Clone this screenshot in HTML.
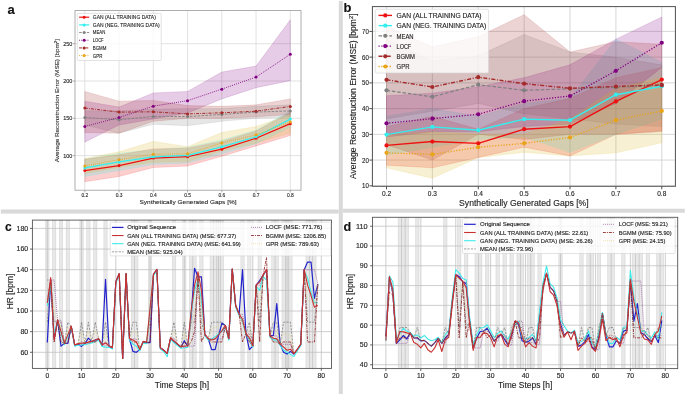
<!DOCTYPE html>
<html><head><meta charset="utf-8"><style>
html,body{margin:0;padding:0;background:#fff;}
body{width:685px;height:395px;overflow:hidden;}
svg{display:block;font-family:"Liberation Sans", sans-serif;filter:blur(0.3px);}
text{stroke:#262626;stroke-width:0.14px;}
.thin text{stroke-width:0.1px;}
</style></head><body>
<svg width="685" height="395" viewBox="0 0 685 395">
<rect x="0" y="0" width="685" height="395" fill="#fff"/>
<rect x="338.8" y="1" width="4" height="393" fill="#d9d9d9"/>
<rect x="0.8" y="209.5" width="338" height="4.1" fill="#d9d9d9"/>
<rect x="342.8" y="208.7" width="342" height="4" fill="#d9d9d9"/>
<g class="thin">
<clipPath id="ca"><rect x="75" y="10.6" width="226" height="179.6"/></clipPath>
<g clip-path="url(#ca)">
<line x1="84.8" y1="10.6" x2="84.8" y2="190.2" stroke="#d6d6d6" stroke-width="0.7"/>
<line x1="119.05" y1="10.6" x2="119.05" y2="190.2" stroke="#d6d6d6" stroke-width="0.7"/>
<line x1="153.3" y1="10.6" x2="153.3" y2="190.2" stroke="#d6d6d6" stroke-width="0.7"/>
<line x1="187.55" y1="10.6" x2="187.55" y2="190.2" stroke="#d6d6d6" stroke-width="0.7"/>
<line x1="221.8" y1="10.6" x2="221.8" y2="190.2" stroke="#d6d6d6" stroke-width="0.7"/>
<line x1="256.05" y1="10.6" x2="256.05" y2="190.2" stroke="#d6d6d6" stroke-width="0.7"/>
<line x1="290.3" y1="10.6" x2="290.3" y2="190.2" stroke="#d6d6d6" stroke-width="0.7"/>
<line x1="75" y1="155.6" x2="301" y2="155.6" stroke="#d6d6d6" stroke-width="0.7"/>
<line x1="75" y1="118.3" x2="301" y2="118.3" stroke="#d6d6d6" stroke-width="0.7"/>
<line x1="75" y1="81" x2="301" y2="81" stroke="#d6d6d6" stroke-width="0.7"/>
<line x1="75" y1="43.7" x2="301" y2="43.7" stroke="#d6d6d6" stroke-width="0.7"/>
<polygon points="84.8,159.33 119.05,154.85 153.3,148.89 187.55,148.14 221.8,141.43 256.05,130.98 290.3,112.33 290.3,135.46 256.05,145.9 221.8,156.35 187.55,166.04 153.3,167.54 119.05,176.49 84.8,181.71" fill="#ee1111" fill-opacity="0.2" stroke="#ee1111" stroke-opacity="0.2" stroke-width="0.7" stroke-linejoin="round"/>
<polygon points="84.8,159.33 119.05,153.36 153.3,149.63 187.55,147.39 221.8,139.93 256.05,130.24 290.3,110.84 290.3,127.25 256.05,143.66 221.8,154.11 187.55,163.06 153.3,164.55 119.05,170.52 84.8,176.49" fill="#33eeee" fill-opacity="0.2" stroke="#33eeee" stroke-opacity="0.2" stroke-width="0.7" stroke-linejoin="round"/>
<polygon points="84.8,110.84 119.05,110.84 153.3,109.35 187.55,108.6 221.8,108.6 256.05,106.36 290.3,104.87 290.3,116.81 256.05,118.3 221.8,121.28 187.55,125.76 153.3,124.27 119.05,133.22 84.8,125.01" fill="#808080" fill-opacity="0.2" stroke="#808080" stroke-opacity="0.2" stroke-width="0.7" stroke-linejoin="round"/>
<polygon points="84.8,101.14 119.05,107.11 153.3,92.94 187.55,91.44 221.8,72.05 256.05,66.08 290.3,19.83 290.3,80.63 256.05,87.71 221.8,98.9 187.55,113.08 153.3,119.05 119.05,125.01 84.8,142.17" fill="#800080" fill-opacity="0.2" stroke="#800080" stroke-opacity="0.2" stroke-width="0.7" stroke-linejoin="round"/>
<polygon points="84.8,91.44 119.05,101.14 153.3,100.4 187.55,105.62 221.8,106.36 256.05,104.87 290.3,98.9 290.3,114.57 256.05,116.81 221.8,118.3 187.55,118.3 153.3,121.28 119.05,133.22 84.8,132.47" fill="#a52a2a" fill-opacity="0.2" stroke="#a52a2a" stroke-opacity="0.2" stroke-width="0.7" stroke-linejoin="round"/>
<polygon points="84.8,158.58 119.05,151.87 153.3,141.43 187.55,146.65 221.8,132.47 256.05,126.51 290.3,114.57 290.3,133.22 256.05,142.92 221.8,151.12 187.55,161.57 153.3,162.31 119.05,167.54 84.8,173.5" fill="#dcb420" fill-opacity="0.2" stroke="#dcb420" stroke-opacity="0.2" stroke-width="0.7" stroke-linejoin="round"/>
<polyline points="84.8,170.59 119.05,165.6 153.3,158.06 187.55,156.72 221.8,149.18 256.05,138.29 290.3,123.67" fill="none" stroke="#ee1111" stroke-width="1.2" stroke-linejoin="round"/>
<circle cx="84.8" cy="170.59" r="1.5" fill="#ee1111"/>
<circle cx="119.05" cy="165.6" r="1.5" fill="#ee1111"/>
<circle cx="153.3" cy="158.06" r="1.5" fill="#ee1111"/>
<circle cx="187.55" cy="156.72" r="1.5" fill="#ee1111"/>
<circle cx="221.8" cy="149.18" r="1.5" fill="#ee1111"/>
<circle cx="256.05" cy="138.29" r="1.5" fill="#ee1111"/>
<circle cx="290.3" cy="123.67" r="1.5" fill="#ee1111"/>
<polyline points="84.8,167.91 119.05,161.94 153.3,156.87 187.55,155.3 221.8,146.87 256.05,136.73 290.3,119.12" fill="none" stroke="#33eeee" stroke-width="1.2" stroke-linejoin="round"/>
<circle cx="84.8" cy="167.91" r="1.5" fill="#33eeee"/>
<circle cx="119.05" cy="161.94" r="1.5" fill="#33eeee"/>
<circle cx="153.3" cy="156.87" r="1.5" fill="#33eeee"/>
<circle cx="187.55" cy="155.3" r="1.5" fill="#33eeee"/>
<circle cx="221.8" cy="146.87" r="1.5" fill="#33eeee"/>
<circle cx="256.05" cy="136.73" r="1.5" fill="#33eeee"/>
<circle cx="290.3" cy="119.12" r="1.5" fill="#33eeee"/>
<polyline points="84.8,117.48 119.05,119.79 153.3,116.44 187.55,116.58 221.8,114.42 256.05,112.11 290.3,110.91" fill="none" stroke="#808080" stroke-width="0.9" stroke-linejoin="round" stroke-dasharray="2.6 1.3"/>
<circle cx="84.8" cy="117.48" r="1.5" fill="#808080"/>
<circle cx="119.05" cy="119.79" r="1.5" fill="#808080"/>
<circle cx="153.3" cy="116.44" r="1.5" fill="#808080"/>
<circle cx="187.55" cy="116.58" r="1.5" fill="#808080"/>
<circle cx="221.8" cy="114.42" r="1.5" fill="#808080"/>
<circle cx="256.05" cy="112.11" r="1.5" fill="#808080"/>
<circle cx="290.3" cy="110.91" r="1.5" fill="#808080"/>
<polyline points="84.8,126.43 119.05,117.48 153.3,106.14 187.55,100.69 221.8,89.13 256.05,77.05 290.3,54.29" fill="none" stroke="#800080" stroke-width="0.9" stroke-linejoin="round" stroke-dasharray="0.9 1.2"/>
<circle cx="84.8" cy="126.43" r="1.5" fill="#800080"/>
<circle cx="119.05" cy="117.48" r="1.5" fill="#800080"/>
<circle cx="153.3" cy="106.14" r="1.5" fill="#800080"/>
<circle cx="187.55" cy="100.69" r="1.5" fill="#800080"/>
<circle cx="221.8" cy="89.13" r="1.5" fill="#800080"/>
<circle cx="256.05" cy="77.05" r="1.5" fill="#800080"/>
<circle cx="290.3" cy="54.29" r="1.5" fill="#800080"/>
<polyline points="84.8,108.01 119.05,112.11 153.3,111.81 187.55,113.9 221.8,112.78 256.05,111.21 290.3,106.44" fill="none" stroke="#a52a2a" stroke-width="1" stroke-linejoin="round" stroke-dasharray="3 1.2 0.8 1.2"/>
<circle cx="84.8" cy="108.01" r="1.5" fill="#a52a2a"/>
<circle cx="119.05" cy="112.11" r="1.5" fill="#a52a2a"/>
<circle cx="153.3" cy="111.81" r="1.5" fill="#a52a2a"/>
<circle cx="187.55" cy="113.9" r="1.5" fill="#a52a2a"/>
<circle cx="221.8" cy="112.78" r="1.5" fill="#a52a2a"/>
<circle cx="256.05" cy="111.21" r="1.5" fill="#a52a2a"/>
<circle cx="290.3" cy="106.44" r="1.5" fill="#a52a2a"/>
<polyline points="84.8,165.97 119.05,159.7 153.3,154.18 187.55,153.81 221.8,142.99 256.05,134.86 290.3,121.88" fill="none" stroke="#e8a317" stroke-width="0.9" stroke-linejoin="round" stroke-dasharray="0.9 1.2"/>
<circle cx="84.8" cy="165.97" r="1.5" fill="#e8a317"/>
<circle cx="119.05" cy="159.7" r="1.5" fill="#e8a317"/>
<circle cx="153.3" cy="154.18" r="1.5" fill="#e8a317"/>
<circle cx="187.55" cy="153.81" r="1.5" fill="#e8a317"/>
<circle cx="221.8" cy="142.99" r="1.5" fill="#e8a317"/>
<circle cx="256.05" cy="134.86" r="1.5" fill="#e8a317"/>
<circle cx="290.3" cy="121.88" r="1.5" fill="#e8a317"/>
</g>
<rect x="75" y="10.6" width="226" height="179.6" fill="none" stroke="#9a9a9a" stroke-width="0.8"/>
<line x1="84.8" y1="190.2" x2="84.8" y2="192.4" stroke="#9a9a9a" stroke-width="0.8"/>
<line x1="119.05" y1="190.2" x2="119.05" y2="192.4" stroke="#9a9a9a" stroke-width="0.8"/>
<line x1="153.3" y1="190.2" x2="153.3" y2="192.4" stroke="#9a9a9a" stroke-width="0.8"/>
<line x1="187.55" y1="190.2" x2="187.55" y2="192.4" stroke="#9a9a9a" stroke-width="0.8"/>
<line x1="221.8" y1="190.2" x2="221.8" y2="192.4" stroke="#9a9a9a" stroke-width="0.8"/>
<line x1="256.05" y1="190.2" x2="256.05" y2="192.4" stroke="#9a9a9a" stroke-width="0.8"/>
<line x1="290.3" y1="190.2" x2="290.3" y2="192.4" stroke="#9a9a9a" stroke-width="0.8"/>
<line x1="72.8" y1="155.6" x2="75" y2="155.6" stroke="#9a9a9a" stroke-width="0.8"/>
<line x1="72.8" y1="118.3" x2="75" y2="118.3" stroke="#9a9a9a" stroke-width="0.8"/>
<line x1="72.8" y1="81" x2="75" y2="81" stroke="#9a9a9a" stroke-width="0.8"/>
<line x1="72.8" y1="43.7" x2="75" y2="43.7" stroke="#9a9a9a" stroke-width="0.8"/>
<text x="84.8" y="197" font-size="4.6" fill="#262626" text-anchor="middle" textLength="6.8" lengthAdjust="spacingAndGlyphs">0.2</text>
<text x="119.05" y="197" font-size="4.6" fill="#262626" text-anchor="middle" textLength="6.8" lengthAdjust="spacingAndGlyphs">0.3</text>
<text x="153.3" y="197" font-size="4.6" fill="#262626" text-anchor="middle" textLength="6.8" lengthAdjust="spacingAndGlyphs">0.4</text>
<text x="187.55" y="197" font-size="4.6" fill="#262626" text-anchor="middle" textLength="6.8" lengthAdjust="spacingAndGlyphs">0.5</text>
<text x="221.8" y="197" font-size="4.6" fill="#262626" text-anchor="middle" textLength="6.8" lengthAdjust="spacingAndGlyphs">0.6</text>
<text x="256.05" y="197" font-size="4.6" fill="#262626" text-anchor="middle" textLength="6.8" lengthAdjust="spacingAndGlyphs">0.7</text>
<text x="290.3" y="197" font-size="4.6" fill="#262626" text-anchor="middle" textLength="6.8" lengthAdjust="spacingAndGlyphs">0.8</text>
<text x="72.3" y="157.76" font-size="4.6" fill="#262626" text-anchor="end" textLength="9.15" lengthAdjust="spacingAndGlyphs">100</text>
<text x="72.3" y="120.46" font-size="4.6" fill="#262626" text-anchor="end" textLength="9.15" lengthAdjust="spacingAndGlyphs">150</text>
<text x="72.3" y="83.16" font-size="4.6" fill="#262626" text-anchor="end" textLength="9.15" lengthAdjust="spacingAndGlyphs">200</text>
<text x="72.3" y="45.86" font-size="4.6" fill="#262626" text-anchor="end" textLength="9.15" lengthAdjust="spacingAndGlyphs">250</text>
<text x="188" y="204" font-size="6.2" fill="#262626" text-anchor="middle" textLength="97" lengthAdjust="spacingAndGlyphs">Synthetically Generated Gaps [%]</text>
<text x="0" y="0" font-size="6.2" fill="#262626" text-anchor="middle" textLength="123.5" lengthAdjust="spacingAndGlyphs" transform="translate(59.2 100.6) rotate(-90)">Average Reconstruction Error (MSE) [bpm<tspan font-size="4.34" dy="-2.48">2</tspan><tspan dy="2.48">]</tspan></text>
<rect x="77.3" y="13.4" width="83.9" height="47.1" fill="#ffffff" fill-opacity="0.8" stroke="#d0d0d0" stroke-width="0.6" rx="1"/>
<line x1="79.1" y1="17.2" x2="89.2" y2="17.2" stroke="#ee1111" stroke-width="1.2"/>
<circle cx="84.15" cy="17.2" r="1.5" fill="#ee1111"/>
<text x="92.8" y="19.13" font-size="4.6" fill="#262626" textLength="63" lengthAdjust="spacingAndGlyphs">GAN (ALL TRAINING DATA)</text>
<line x1="79.1" y1="24.88" x2="89.2" y2="24.88" stroke="#33eeee" stroke-width="1.2"/>
<circle cx="84.15" cy="24.88" r="1.5" fill="#33eeee"/>
<text x="92.8" y="26.81" font-size="4.6" fill="#262626" textLength="67" lengthAdjust="spacingAndGlyphs">GAN (NEG. TRAINING DATA)</text>
<line x1="79.1" y1="32.56" x2="89.2" y2="32.56" stroke="#808080" stroke-width="0.9" stroke-dasharray="2.6 1.3"/>
<circle cx="84.15" cy="32.56" r="1.5" fill="#808080"/>
<text x="92.8" y="34.49" font-size="4.6" fill="#262626" textLength="12.5" lengthAdjust="spacingAndGlyphs">MEAN</text>
<line x1="79.1" y1="40.24" x2="89.2" y2="40.24" stroke="#800080" stroke-width="0.9" stroke-dasharray="0.9 1.2"/>
<circle cx="84.15" cy="40.24" r="1.5" fill="#800080"/>
<text x="92.8" y="42.17" font-size="4.6" fill="#262626" textLength="10.8" lengthAdjust="spacingAndGlyphs">LOCF</text>
<line x1="79.1" y1="47.92" x2="89.2" y2="47.92" stroke="#a52a2a" stroke-width="1" stroke-dasharray="3 1.2 0.8 1.2"/>
<circle cx="84.15" cy="47.92" r="1.5" fill="#a52a2a"/>
<text x="92.8" y="49.85" font-size="4.6" fill="#262626" textLength="13.6" lengthAdjust="spacingAndGlyphs">BGMM</text>
<line x1="79.1" y1="55.6" x2="89.2" y2="55.6" stroke="#e8a317" stroke-width="0.9" stroke-dasharray="0.9 1.2"/>
<circle cx="84.15" cy="55.6" r="1.5" fill="#e8a317"/>
<text x="92.8" y="57.53" font-size="4.6" fill="#262626" textLength="9.6" lengthAdjust="spacingAndGlyphs">GPR</text>
</g>
<clipPath id="cb"><rect x="372.4" y="6.6" width="303" height="179.7"/></clipPath>
<g clip-path="url(#cb)">
<line x1="386.5" y1="6.6" x2="386.5" y2="186.3" stroke="#cdcdcd" stroke-width="0.8"/>
<line x1="432.38" y1="6.6" x2="432.38" y2="186.3" stroke="#cdcdcd" stroke-width="0.8"/>
<line x1="478.26" y1="6.6" x2="478.26" y2="186.3" stroke="#cdcdcd" stroke-width="0.8"/>
<line x1="524.14" y1="6.6" x2="524.14" y2="186.3" stroke="#cdcdcd" stroke-width="0.8"/>
<line x1="570.02" y1="6.6" x2="570.02" y2="186.3" stroke="#cdcdcd" stroke-width="0.8"/>
<line x1="615.9" y1="6.6" x2="615.9" y2="186.3" stroke="#cdcdcd" stroke-width="0.8"/>
<line x1="661.78" y1="6.6" x2="661.78" y2="186.3" stroke="#cdcdcd" stroke-width="0.8"/>
<line x1="372.4" y1="185.8" x2="675.4" y2="185.8" stroke="#cdcdcd" stroke-width="0.8"/>
<line x1="372.4" y1="160.07" x2="675.4" y2="160.07" stroke="#cdcdcd" stroke-width="0.8"/>
<line x1="372.4" y1="134.34" x2="675.4" y2="134.34" stroke="#cdcdcd" stroke-width="0.8"/>
<line x1="372.4" y1="108.61" x2="675.4" y2="108.61" stroke="#cdcdcd" stroke-width="0.8"/>
<line x1="372.4" y1="82.88" x2="675.4" y2="82.88" stroke="#cdcdcd" stroke-width="0.8"/>
<line x1="372.4" y1="57.15" x2="675.4" y2="57.15" stroke="#cdcdcd" stroke-width="0.8"/>
<line x1="372.4" y1="31.42" x2="675.4" y2="31.42" stroke="#cdcdcd" stroke-width="0.8"/>
<polygon points="386.5,126.62 432.38,116.33 478.26,129.19 524.14,108.61 570.02,98.32 615.9,77.73 661.78,67.44 661.78,130.74 615.9,134.34 570.02,155.95 524.14,147.21 478.26,157.5 432.38,167.79 386.5,165.22" fill="#ee1111" fill-opacity="0.2" stroke="#ee1111" stroke-opacity="0.2" stroke-width="0.7" stroke-linejoin="round"/>
<polygon points="386.5,116.33 432.38,108.61 478.26,116.33 524.14,103.46 570.02,98.32 615.9,39.14 661.78,62.3 661.78,118.9 615.9,134.34 570.02,152.35 524.14,136.91 478.26,139.49 432.38,147.21 386.5,154.92" fill="#33eeee" fill-opacity="0.2" stroke="#33eeee" stroke-opacity="0.2" stroke-width="0.7" stroke-linejoin="round"/>
<polygon points="386.5,39.14 432.38,61.01 478.26,55.86 524.14,34.51 570.02,52 615.9,57.15 661.78,64.87 661.78,126.62 615.9,124.05 570.02,118.9 524.14,113.76 478.26,103.46 432.38,111.18 386.5,118.9" fill="#808080" fill-opacity="0.2" stroke="#808080" stroke-opacity="0.2" stroke-width="0.7" stroke-linejoin="round"/>
<polygon points="386.5,95.75 432.38,93.17 478.26,86.74 524.14,77.73 570.02,64.87 615.9,39.14 661.78,17.01 661.78,67.44 615.9,103.46 570.02,124.05 524.14,126.62 478.26,131.77 432.38,131.77 386.5,136.91" fill="#800080" fill-opacity="0.2" stroke="#800080" stroke-opacity="0.2" stroke-width="0.7" stroke-linejoin="round"/>
<polygon points="386.5,26.27 432.38,46.86 478.26,36.57 524.14,14.7 570.02,52 615.9,41.71 661.78,44.29 661.78,131.77 615.9,134.34 570.02,134.34 524.14,139.49 478.26,134.34 432.38,160.07 386.5,144.63" fill="#a52a2a" fill-opacity="0.2" stroke="#a52a2a" stroke-opacity="0.2" stroke-width="0.7" stroke-linejoin="round"/>
<polygon points="386.5,134.34 432.38,131.77 478.26,134.34 524.14,134.34 570.02,118.9 615.9,88.03 661.78,77.73 661.78,142.83 615.9,152.87 570.02,155.95 524.14,152.35 478.26,157.5 432.38,178.34 386.5,167.79" fill="#dcb420" fill-opacity="0.2" stroke="#dcb420" stroke-opacity="0.2" stroke-width="0.7" stroke-linejoin="round"/>
<polyline points="386.5,145.4 432.38,141.54 478.26,143.35 524.14,129.19 570.02,126.62 615.9,101.41 661.78,79.54" fill="none" stroke="#ee1111" stroke-width="1.4" stroke-linejoin="round"/>
<circle cx="386.5" cy="145.4" r="2.1" fill="#ee1111"/>
<circle cx="432.38" cy="141.54" r="2.1" fill="#ee1111"/>
<circle cx="478.26" cy="143.35" r="2.1" fill="#ee1111"/>
<circle cx="524.14" cy="129.19" r="2.1" fill="#ee1111"/>
<circle cx="570.02" cy="126.62" r="2.1" fill="#ee1111"/>
<circle cx="615.9" cy="101.41" r="2.1" fill="#ee1111"/>
<circle cx="661.78" cy="79.54" r="2.1" fill="#ee1111"/>
<polyline points="386.5,134.6 432.38,126.88 478.26,130.22 524.14,119.16 570.02,120.19 615.9,94.72 661.78,86.22" fill="none" stroke="#33eeee" stroke-width="1.4" stroke-linejoin="round"/>
<circle cx="386.5" cy="134.6" r="2.1" fill="#33eeee"/>
<circle cx="432.38" cy="126.88" r="2.1" fill="#33eeee"/>
<circle cx="478.26" cy="130.22" r="2.1" fill="#33eeee"/>
<circle cx="524.14" cy="119.16" r="2.1" fill="#33eeee"/>
<circle cx="570.02" cy="120.19" r="2.1" fill="#33eeee"/>
<circle cx="615.9" cy="94.72" r="2.1" fill="#33eeee"/>
<circle cx="661.78" cy="86.22" r="2.1" fill="#33eeee"/>
<polyline points="386.5,90.34 432.38,96.77 478.26,84.68 524.14,90.34 570.02,88.8 615.9,87.25 661.78,85.45" fill="none" stroke="#808080" stroke-width="1.2" stroke-linejoin="round" stroke-dasharray="3.6 1.8"/>
<circle cx="386.5" cy="90.34" r="2.1" fill="#808080"/>
<circle cx="432.38" cy="96.77" r="2.1" fill="#808080"/>
<circle cx="478.26" cy="84.68" r="2.1" fill="#808080"/>
<circle cx="524.14" cy="90.34" r="2.1" fill="#808080"/>
<circle cx="570.02" cy="88.8" r="2.1" fill="#808080"/>
<circle cx="615.9" cy="87.25" r="2.1" fill="#808080"/>
<circle cx="661.78" cy="85.45" r="2.1" fill="#808080"/>
<polyline points="386.5,123.28 432.38,118.64 478.26,114.27 524.14,101.15 570.02,96 615.9,70.79 661.78,42.74" fill="none" stroke="#800080" stroke-width="1.3" stroke-linejoin="round" stroke-dasharray="1.2 1.6"/>
<circle cx="386.5" cy="123.28" r="2.1" fill="#800080"/>
<circle cx="432.38" cy="118.64" r="2.1" fill="#800080"/>
<circle cx="478.26" cy="114.27" r="2.1" fill="#800080"/>
<circle cx="524.14" cy="101.15" r="2.1" fill="#800080"/>
<circle cx="570.02" cy="96" r="2.1" fill="#800080"/>
<circle cx="615.9" cy="70.79" r="2.1" fill="#800080"/>
<circle cx="661.78" cy="42.74" r="2.1" fill="#800080"/>
<polyline points="386.5,79.79 432.38,87 478.26,77.22 524.14,83.65 570.02,88.28 615.9,86.48 661.78,84.94" fill="none" stroke="#a52a2a" stroke-width="1.4" stroke-linejoin="round" stroke-dasharray="4 1.6 1 1.6"/>
<circle cx="386.5" cy="79.79" r="2.1" fill="#a52a2a"/>
<circle cx="432.38" cy="87" r="2.1" fill="#a52a2a"/>
<circle cx="478.26" cy="77.22" r="2.1" fill="#a52a2a"/>
<circle cx="524.14" cy="83.65" r="2.1" fill="#a52a2a"/>
<circle cx="570.02" cy="88.28" r="2.1" fill="#a52a2a"/>
<circle cx="615.9" cy="86.48" r="2.1" fill="#a52a2a"/>
<circle cx="661.78" cy="84.94" r="2.1" fill="#a52a2a"/>
<polyline points="386.5,152.87 432.38,154.41 478.26,147.21 524.14,143.35 570.02,137.43 615.9,120.19 661.78,110.93" fill="none" stroke="#e8a317" stroke-width="1.3" stroke-linejoin="round" stroke-dasharray="1.2 1.6"/>
<circle cx="386.5" cy="152.87" r="2.1" fill="#e8a317"/>
<circle cx="432.38" cy="154.41" r="2.1" fill="#e8a317"/>
<circle cx="478.26" cy="147.21" r="2.1" fill="#e8a317"/>
<circle cx="524.14" cy="143.35" r="2.1" fill="#e8a317"/>
<circle cx="570.02" cy="137.43" r="2.1" fill="#e8a317"/>
<circle cx="615.9" cy="120.19" r="2.1" fill="#e8a317"/>
<circle cx="661.78" cy="110.93" r="2.1" fill="#e8a317"/>
</g>
<rect x="372.4" y="6.6" width="303" height="179.7" fill="none" stroke="#505050" stroke-width="1"/>
<line x1="386.5" y1="186.3" x2="386.5" y2="189.3" stroke="#505050" stroke-width="1"/>
<line x1="432.38" y1="186.3" x2="432.38" y2="189.3" stroke="#505050" stroke-width="1"/>
<line x1="478.26" y1="186.3" x2="478.26" y2="189.3" stroke="#505050" stroke-width="1"/>
<line x1="524.14" y1="186.3" x2="524.14" y2="189.3" stroke="#505050" stroke-width="1"/>
<line x1="570.02" y1="186.3" x2="570.02" y2="189.3" stroke="#505050" stroke-width="1"/>
<line x1="615.9" y1="186.3" x2="615.9" y2="189.3" stroke="#505050" stroke-width="1"/>
<line x1="661.78" y1="186.3" x2="661.78" y2="189.3" stroke="#505050" stroke-width="1"/>
<line x1="369.4" y1="185.8" x2="372.4" y2="185.8" stroke="#505050" stroke-width="1"/>
<line x1="369.4" y1="160.07" x2="372.4" y2="160.07" stroke="#505050" stroke-width="1"/>
<line x1="369.4" y1="134.34" x2="372.4" y2="134.34" stroke="#505050" stroke-width="1"/>
<line x1="369.4" y1="108.61" x2="372.4" y2="108.61" stroke="#505050" stroke-width="1"/>
<line x1="369.4" y1="82.88" x2="372.4" y2="82.88" stroke="#505050" stroke-width="1"/>
<line x1="369.4" y1="57.15" x2="372.4" y2="57.15" stroke="#505050" stroke-width="1"/>
<line x1="369.4" y1="31.42" x2="372.4" y2="31.42" stroke="#505050" stroke-width="1"/>
<text x="386.5" y="196.3" font-size="7" fill="#262626" text-anchor="middle" textLength="9.1" lengthAdjust="spacingAndGlyphs">0.2</text>
<text x="432.38" y="196.3" font-size="7" fill="#262626" text-anchor="middle" textLength="9.1" lengthAdjust="spacingAndGlyphs">0.3</text>
<text x="478.26" y="196.3" font-size="7" fill="#262626" text-anchor="middle" textLength="9.1" lengthAdjust="spacingAndGlyphs">0.4</text>
<text x="524.14" y="196.3" font-size="7" fill="#262626" text-anchor="middle" textLength="9.1" lengthAdjust="spacingAndGlyphs">0.5</text>
<text x="570.02" y="196.3" font-size="7" fill="#262626" text-anchor="middle" textLength="9.1" lengthAdjust="spacingAndGlyphs">0.6</text>
<text x="615.9" y="196.3" font-size="7" fill="#262626" text-anchor="middle" textLength="9.1" lengthAdjust="spacingAndGlyphs">0.7</text>
<text x="661.78" y="196.3" font-size="7" fill="#262626" text-anchor="middle" textLength="9.1" lengthAdjust="spacingAndGlyphs">0.8</text>
<text x="368.8" y="188.32" font-size="7" fill="#262626" text-anchor="end" textLength="6.8" lengthAdjust="spacingAndGlyphs">10</text>
<text x="368.8" y="162.59" font-size="7" fill="#262626" text-anchor="end" textLength="6.8" lengthAdjust="spacingAndGlyphs">20</text>
<text x="368.8" y="136.86" font-size="7" fill="#262626" text-anchor="end" textLength="6.8" lengthAdjust="spacingAndGlyphs">30</text>
<text x="368.8" y="111.13" font-size="7" fill="#262626" text-anchor="end" textLength="6.8" lengthAdjust="spacingAndGlyphs">40</text>
<text x="368.8" y="85.4" font-size="7" fill="#262626" text-anchor="end" textLength="6.8" lengthAdjust="spacingAndGlyphs">50</text>
<text x="368.8" y="59.67" font-size="7" fill="#262626" text-anchor="end" textLength="6.8" lengthAdjust="spacingAndGlyphs">60</text>
<text x="368.8" y="33.94" font-size="7" fill="#262626" text-anchor="end" textLength="6.8" lengthAdjust="spacingAndGlyphs">70</text>
<text x="523.9" y="206" font-size="8.4" fill="#262626" text-anchor="middle" textLength="129.6" lengthAdjust="spacingAndGlyphs">Synthetically Generated Gaps [%]</text>
<text x="0" y="0" font-size="8.4" fill="#262626" text-anchor="middle" textLength="165.6" lengthAdjust="spacingAndGlyphs" transform="translate(356.4 96.2) rotate(-90)">Average Reconstruction Error (MSE) [bpm<tspan font-size="5.88" dy="-3.36">2</tspan><tspan dy="3.36">]</tspan></text>
<rect x="375.3" y="9.2" width="113.3" height="63.8" fill="#ffffff" fill-opacity="0.8" stroke="#d0d0d0" stroke-width="0.6" rx="1.5"/>
<line x1="378.5" y1="15.4" x2="392" y2="15.4" stroke="#ee1111" stroke-width="1.4"/>
<circle cx="385.25" cy="15.4" r="2.1" fill="#ee1111"/>
<text x="396.6" y="18.26" font-size="6.8" fill="#262626" textLength="85" lengthAdjust="spacingAndGlyphs">GAN (ALL TRAINING DATA)</text>
<line x1="378.5" y1="25.62" x2="392" y2="25.62" stroke="#33eeee" stroke-width="1.4"/>
<circle cx="385.25" cy="25.62" r="2.1" fill="#33eeee"/>
<text x="396.6" y="28.48" font-size="6.8" fill="#262626" textLength="89.6" lengthAdjust="spacingAndGlyphs">GAN (NEG. TRAINING DATA)</text>
<line x1="378.5" y1="35.84" x2="392" y2="35.84" stroke="#808080" stroke-width="1.2" stroke-dasharray="3.6 1.8"/>
<circle cx="385.25" cy="35.84" r="2.1" fill="#808080"/>
<text x="396.6" y="38.7" font-size="6.8" fill="#262626" textLength="17" lengthAdjust="spacingAndGlyphs">MEAN</text>
<line x1="378.5" y1="46.06" x2="392" y2="46.06" stroke="#800080" stroke-width="1.3" stroke-dasharray="1.2 1.6"/>
<circle cx="385.25" cy="46.06" r="2.1" fill="#800080"/>
<text x="396.6" y="48.92" font-size="6.8" fill="#262626" textLength="14.6" lengthAdjust="spacingAndGlyphs">LOCF</text>
<line x1="378.5" y1="56.28" x2="392" y2="56.28" stroke="#a52a2a" stroke-width="1.4" stroke-dasharray="4 1.6 1 1.6"/>
<circle cx="385.25" cy="56.28" r="2.1" fill="#a52a2a"/>
<text x="396.6" y="59.14" font-size="6.8" fill="#262626" textLength="18.3" lengthAdjust="spacingAndGlyphs">BGMM</text>
<line x1="378.5" y1="66.5" x2="392" y2="66.5" stroke="#e8a317" stroke-width="1.3" stroke-dasharray="1.2 1.6"/>
<circle cx="385.25" cy="66.5" r="2.1" fill="#e8a317"/>
<text x="396.6" y="69.36" font-size="6.8" fill="#262626" textLength="13" lengthAdjust="spacingAndGlyphs">GPR</text>
<clipPath id="cc"><rect x="32.4" y="220.1" width="299.1" height="148.3"/></clipPath>
<g clip-path="url(#cc)">
<rect x="45.59" y="220.1" width="3.42" height="148.3" fill="#808080" fill-opacity="0.18" stroke="#808080" stroke-opacity="0.22" stroke-width="0.6"/>
<rect x="52.44" y="220.1" width="3.42" height="148.3" fill="#808080" fill-opacity="0.18" stroke="#808080" stroke-opacity="0.22" stroke-width="0.6"/>
<rect x="59.29" y="220.1" width="3.42" height="148.3" fill="#808080" fill-opacity="0.18" stroke="#808080" stroke-opacity="0.22" stroke-width="0.6"/>
<rect x="66.14" y="220.1" width="3.42" height="148.3" fill="#808080" fill-opacity="0.18" stroke="#808080" stroke-opacity="0.22" stroke-width="0.6"/>
<rect x="79.84" y="220.1" width="3.42" height="148.3" fill="#808080" fill-opacity="0.18" stroke="#808080" stroke-opacity="0.22" stroke-width="0.6"/>
<rect x="86.69" y="220.1" width="3.42" height="148.3" fill="#808080" fill-opacity="0.18" stroke="#808080" stroke-opacity="0.22" stroke-width="0.6"/>
<rect x="93.54" y="220.1" width="3.42" height="148.3" fill="#808080" fill-opacity="0.18" stroke="#808080" stroke-opacity="0.22" stroke-width="0.6"/>
<rect x="103.81" y="220.1" width="3.42" height="148.3" fill="#808080" fill-opacity="0.18" stroke="#808080" stroke-opacity="0.22" stroke-width="0.6"/>
<rect x="131.21" y="220.1" width="3.42" height="148.3" fill="#808080" fill-opacity="0.18" stroke="#808080" stroke-opacity="0.22" stroke-width="0.6"/>
<rect x="134.64" y="220.1" width="3.42" height="148.3" fill="#808080" fill-opacity="0.18" stroke="#808080" stroke-opacity="0.22" stroke-width="0.6"/>
<rect x="148.34" y="220.1" width="3.42" height="148.3" fill="#808080" fill-opacity="0.18" stroke="#808080" stroke-opacity="0.22" stroke-width="0.6"/>
<rect x="172.31" y="220.1" width="3.42" height="148.3" fill="#808080" fill-opacity="0.18" stroke="#808080" stroke-opacity="0.22" stroke-width="0.6"/>
<rect x="182.59" y="220.1" width="3.42" height="148.3" fill="#808080" fill-opacity="0.18" stroke="#808080" stroke-opacity="0.22" stroke-width="0.6"/>
<rect x="189.44" y="220.1" width="3.42" height="148.3" fill="#808080" fill-opacity="0.18" stroke="#808080" stroke-opacity="0.22" stroke-width="0.6"/>
<rect x="192.86" y="220.1" width="3.42" height="148.3" fill="#808080" fill-opacity="0.18" stroke="#808080" stroke-opacity="0.22" stroke-width="0.6"/>
<rect x="199.71" y="220.1" width="3.42" height="148.3" fill="#808080" fill-opacity="0.18" stroke="#808080" stroke-opacity="0.22" stroke-width="0.6"/>
<rect x="209.99" y="220.1" width="3.42" height="148.3" fill="#808080" fill-opacity="0.18" stroke="#808080" stroke-opacity="0.22" stroke-width="0.6"/>
<rect x="213.41" y="220.1" width="3.42" height="148.3" fill="#808080" fill-opacity="0.18" stroke="#808080" stroke-opacity="0.22" stroke-width="0.6"/>
<rect x="216.84" y="220.1" width="3.42" height="148.3" fill="#808080" fill-opacity="0.18" stroke="#808080" stroke-opacity="0.22" stroke-width="0.6"/>
<rect x="220.26" y="220.1" width="3.42" height="148.3" fill="#808080" fill-opacity="0.18" stroke="#808080" stroke-opacity="0.22" stroke-width="0.6"/>
<rect x="240.81" y="220.1" width="3.42" height="148.3" fill="#808080" fill-opacity="0.18" stroke="#808080" stroke-opacity="0.22" stroke-width="0.6"/>
<rect x="247.66" y="220.1" width="3.42" height="148.3" fill="#808080" fill-opacity="0.18" stroke="#808080" stroke-opacity="0.22" stroke-width="0.6"/>
<rect x="257.94" y="220.1" width="3.42" height="148.3" fill="#808080" fill-opacity="0.18" stroke="#808080" stroke-opacity="0.22" stroke-width="0.6"/>
<rect x="271.64" y="220.1" width="3.42" height="148.3" fill="#808080" fill-opacity="0.18" stroke="#808080" stroke-opacity="0.22" stroke-width="0.6"/>
<rect x="275.06" y="220.1" width="3.42" height="148.3" fill="#808080" fill-opacity="0.18" stroke="#808080" stroke-opacity="0.22" stroke-width="0.6"/>
<rect x="281.91" y="220.1" width="3.42" height="148.3" fill="#808080" fill-opacity="0.18" stroke="#808080" stroke-opacity="0.22" stroke-width="0.6"/>
<rect x="285.34" y="220.1" width="3.42" height="148.3" fill="#808080" fill-opacity="0.18" stroke="#808080" stroke-opacity="0.22" stroke-width="0.6"/>
<rect x="288.76" y="220.1" width="3.42" height="148.3" fill="#808080" fill-opacity="0.18" stroke="#808080" stroke-opacity="0.22" stroke-width="0.6"/>
<rect x="305.89" y="220.1" width="3.42" height="148.3" fill="#808080" fill-opacity="0.18" stroke="#808080" stroke-opacity="0.22" stroke-width="0.6"/>
<rect x="309.31" y="220.1" width="3.42" height="148.3" fill="#808080" fill-opacity="0.18" stroke="#808080" stroke-opacity="0.22" stroke-width="0.6"/>
<rect x="312.74" y="220.1" width="3.42" height="148.3" fill="#808080" fill-opacity="0.18" stroke="#808080" stroke-opacity="0.22" stroke-width="0.6"/>
<line x1="47.3" y1="220.1" x2="47.3" y2="368.4" stroke="#bdbdbd" stroke-width="0.75"/>
<line x1="81.55" y1="220.1" x2="81.55" y2="368.4" stroke="#bdbdbd" stroke-width="0.75"/>
<line x1="115.8" y1="220.1" x2="115.8" y2="368.4" stroke="#bdbdbd" stroke-width="0.75"/>
<line x1="150.05" y1="220.1" x2="150.05" y2="368.4" stroke="#bdbdbd" stroke-width="0.75"/>
<line x1="184.3" y1="220.1" x2="184.3" y2="368.4" stroke="#bdbdbd" stroke-width="0.75"/>
<line x1="218.55" y1="220.1" x2="218.55" y2="368.4" stroke="#bdbdbd" stroke-width="0.75"/>
<line x1="252.8" y1="220.1" x2="252.8" y2="368.4" stroke="#bdbdbd" stroke-width="0.75"/>
<line x1="287.05" y1="220.1" x2="287.05" y2="368.4" stroke="#bdbdbd" stroke-width="0.75"/>
<line x1="321.3" y1="220.1" x2="321.3" y2="368.4" stroke="#bdbdbd" stroke-width="0.75"/>
<line x1="32.4" y1="352.3" x2="331.5" y2="352.3" stroke="#bdbdbd" stroke-width="0.75"/>
<line x1="32.4" y1="331.65" x2="331.5" y2="331.65" stroke="#bdbdbd" stroke-width="0.75"/>
<line x1="32.4" y1="311" x2="331.5" y2="311" stroke="#bdbdbd" stroke-width="0.75"/>
<line x1="32.4" y1="290.35" x2="331.5" y2="290.35" stroke="#bdbdbd" stroke-width="0.75"/>
<line x1="32.4" y1="269.7" x2="331.5" y2="269.7" stroke="#bdbdbd" stroke-width="0.75"/>
<line x1="32.4" y1="249.05" x2="331.5" y2="249.05" stroke="#bdbdbd" stroke-width="0.75"/>
<line x1="32.4" y1="228.4" x2="331.5" y2="228.4" stroke="#bdbdbd" stroke-width="0.75"/>
<polyline points="47.3,342.59 50.72,280.02 54.15,338.88 57.57,320.29 61,346.11 64.42,343.52 67.85,343.42 71.27,326.49 74.7,345.07 78.12,344.04 81.55,346.41 84.97,343.42 88.4,338.15 91.82,341.67 95.25,339.91 98.67,338.98 102.1,345.18 105.52,279.3 108.95,346.11 112.38,347.86 115.8,282.09 119.22,273.83 122.65,358.5 126.07,273.83 129.5,338.98 132.93,351.37 136.35,352.3 139.77,349.62 143.2,341.67 146.62,342.59 150.05,342.59 153.47,274.45 156.9,269.7 160.32,347.86 163.75,350.24 167.18,353.33 170.6,338.15 174.02,341.67 177.45,344.35 180.88,347.03 184.3,340.74 187.72,346.11 191.15,316.16 194.57,268.25 198,276.82 201.43,276.82 204.85,334.54 208.27,338.98 211.7,349.62 215.12,349.62 218.55,335.47 221.97,323.08 225.4,325.76 228.82,338.98 232.25,269.18 235.68,305.84 239.1,314.2 242.52,269.7 245.95,333.72 249.38,349.62 252.8,346.11 256.22,285.19 259.65,280.64 263.07,275.38 266.5,270.01 269.93,335.78 273.35,335.47 276.77,303.57 280.2,344.35 283.62,352.3 287.05,354.06 290.47,351.37 293.9,354.06 297.32,349.62 300.75,344.35 304.18,269.7 307.6,262.06 311.02,262.06 314.45,298.4 317.88,284.15" fill="none" stroke="#2222cc" stroke-width="1.2" stroke-linejoin="round" stroke-opacity="1"/>
<polyline points="47.3,305.84 50.72,284.15 54.15,333.72 57.57,321.53 61,333.15 64.42,344.76 67.85,336.24 71.27,327.73 74.7,346.31 78.12,345.28 81.55,344.97 84.97,344.66 88.4,343.78 91.82,342.9 95.25,341.56 98.67,340.22 102.1,346.41 105.52,347.14 108.95,347.34 112.38,349.1 115.8,283.33 119.22,275.07 122.65,356.43 126.07,275.07 129.5,340.22 132.93,344.04 136.35,346.11 139.77,350.85 143.2,342.9 146.62,343.83 150.05,309.76 153.47,275.69 156.9,270.94 160.32,349.1 163.75,351.47 167.18,356.74 170.6,339.39 174.02,342.49 177.45,345.59 180.88,348.27 184.3,347.81 187.72,347.34 191.15,313.06 194.57,290.35 198,280.02 201.43,300.68 204.85,335.78 208.27,340.22 211.7,338.88 215.12,336.81 218.55,333.72 221.97,331.65 225.4,327 228.82,340.22 232.25,270.42 235.68,307.08 239.1,315.44 242.52,321.32 245.95,334.95 249.38,339.91 252.8,347.34 256.22,286.43 259.65,290.35 263.07,276.62 266.5,280.02 269.93,337.02 273.35,339.88 276.77,339.91 280.2,345.59 283.62,350.24 287.05,352.3 290.47,354.37 293.9,356.43 297.32,350.85 300.75,345.59 304.18,270.94 307.6,277.96 311.02,292.42 314.45,302.74 317.88,302.74" fill="none" stroke="#40eaea" stroke-width="1.1" stroke-linejoin="round" stroke-opacity="1"/>
<polyline points="47.3,322.15 50.72,280.02 54.15,322.15 57.57,320.29 61,322.15 64.42,343.52 67.85,322.15 71.27,326.49 74.7,345.07 78.12,344.04 81.55,322.15 84.97,343.42 88.4,322.15 91.82,341.67 95.25,322.15 98.67,338.98 102.1,345.18 105.52,322.15 108.95,346.11 112.38,347.86 115.8,282.09 119.22,273.83 122.65,358.5 126.07,273.83 129.5,338.98 132.93,322.15 136.35,322.15 139.77,349.62 143.2,341.67 146.62,342.59 150.05,322.15 153.47,274.45 156.9,269.7 160.32,347.86 163.75,350.24 167.18,353.33 170.6,338.15 174.02,322.15 177.45,344.35 180.88,347.03 184.3,322.15 187.72,346.11 191.15,322.15 194.57,322.15 198,276.82 201.43,322.15 204.85,334.54 208.27,338.98 211.7,322.15 215.12,322.15 218.55,322.15 221.97,322.15 225.4,325.76 228.82,338.98 232.25,269.18 235.68,305.84 239.1,314.2 242.52,322.15 245.95,333.72 249.38,322.15 252.8,346.11 256.22,285.19 259.65,322.15 263.07,275.38 266.5,270.01 269.93,335.78 273.35,322.15 276.77,322.15 280.2,344.35 283.62,322.15 287.05,322.15 290.47,322.15 293.9,354.06 297.32,349.62 300.75,344.35 304.18,269.7 307.6,322.15 311.02,322.15 314.45,322.15 317.88,284.15" fill="none" stroke="#6a6a6a" stroke-width="0.75" stroke-linejoin="round" stroke-dasharray="2.2 1.2" stroke-opacity="0.85"/>
<polyline points="47.3,280.02 50.72,280.02 54.15,280.02 57.57,320.29 61,320.29 64.42,343.52 67.85,343.52 71.27,326.49 74.7,345.07 78.12,344.04 81.55,344.04 84.97,343.42 88.4,343.42 91.82,341.67 95.25,341.67 98.67,338.98 102.1,345.18 105.52,345.18 108.95,346.11 112.38,347.86 115.8,282.09 119.22,273.83 122.65,358.5 126.07,273.83 129.5,338.98 132.93,338.98 136.35,338.98 139.77,349.62 143.2,341.67 146.62,342.59 150.05,342.59 153.47,274.45 156.9,269.7 160.32,347.86 163.75,350.24 167.18,353.33 170.6,338.15 174.02,338.15 177.45,344.35 180.88,347.03 184.3,347.03 187.72,346.11 191.15,346.11 194.57,346.11 198,276.82 201.43,276.82 204.85,334.54 208.27,338.98 211.7,338.98 215.12,338.98 218.55,338.98 221.97,338.98 225.4,325.76 228.82,338.98 232.25,269.18 235.68,305.84 239.1,314.2 242.52,314.2 245.95,333.72 249.38,333.72 252.8,346.11 256.22,285.19 259.65,285.19 263.07,275.38 266.5,270.01 269.93,335.78 273.35,335.78 276.77,335.78 280.2,344.35 283.62,344.35 287.05,344.35 290.47,344.35 293.9,354.06 297.32,349.62 300.75,344.35 304.18,269.7 307.6,269.7 311.02,269.7 314.45,269.7 317.88,284.15" fill="none" stroke="#8a3a8a" stroke-width="0.75" stroke-linejoin="round" stroke-dasharray="1 1" stroke-opacity="0.85"/>
<polyline points="47.3,303.19 50.72,280.02 54.15,312.25 57.57,320.29 61,326.54 64.42,343.52 67.85,327.94 71.27,326.49 74.7,345.07 78.12,344.04 81.55,331.86 84.97,343.42 88.4,331.33 91.82,341.67 95.25,330.33 98.67,338.98 102.1,345.18 105.52,332.72 108.95,346.11 112.38,347.86 115.8,282.09 119.22,273.83 122.65,358.5 126.07,273.83 129.5,338.98 132.93,331.32 136.35,332.91 139.77,349.62 143.2,341.67 146.62,342.59 150.05,316.02 153.47,274.45 156.9,269.7 160.32,347.86 163.75,350.24 167.18,353.33 170.6,338.15 174.02,330.75 177.45,344.35 180.88,347.03 184.3,333.14 187.72,346.11 191.15,322.54 194.57,312.15 198,276.82 201.43,314.74 204.85,334.54 208.27,338.98 211.7,328.53 215.12,327.35 218.55,326.16 221.97,324.97 225.4,325.76 228.82,338.98 232.25,269.18 235.68,305.84 239.1,314.2 242.52,322.96 245.95,333.72 249.38,330.14 252.8,346.11 256.22,285.19 259.65,303.31 263.07,275.38 266.5,270.01 269.93,335.78 273.35,329.57 276.77,330.85 280.2,344.35 283.62,333.23 287.05,334.32 290.47,335.42 293.9,354.06 297.32,349.62 300.75,344.35 304.18,269.7 307.6,300.17 311.02,301.8 314.45,303.43 317.88,284.15" fill="none" stroke="#e0cc70" stroke-width="0.7" stroke-linejoin="round" stroke-dasharray="1 1" stroke-opacity="0.8"/>
<polyline points="47.3,302.74 50.72,280.02 54.15,341.98 57.57,320.29 61,341.98 64.42,343.52 67.85,341.98 71.27,326.49 74.7,345.07 78.12,344.04 81.55,341.98 84.97,343.42 88.4,341.98 91.82,341.67 95.25,341.98 98.67,338.98 102.1,345.18 105.52,341.98 108.95,346.11 112.38,347.86 115.8,282.09 119.22,273.83 122.65,358.5 126.07,273.83 129.5,338.98 132.93,341.98 136.35,341.98 139.77,349.62 143.2,341.67 146.62,342.59 150.05,341.98 153.47,274.45 156.9,269.7 160.32,347.86 163.75,350.24 167.18,353.33 170.6,338.15 174.02,341.98 177.45,344.35 180.88,347.03 184.3,341.98 187.72,346.11 191.15,341.98 194.57,331.65 198,276.82 201.43,341.98 204.85,334.54 208.27,338.98 211.7,341.98 215.12,341.98 218.55,341.98 221.97,341.98 225.4,325.76 228.82,338.98 232.25,269.18 235.68,305.84 239.1,314.2 242.52,341.98 245.95,333.72 249.38,341.98 252.8,346.11 256.22,285.19 259.65,341.98 263.07,275.38 266.5,257.62 269.93,335.78 273.35,341.98 276.77,341.98 280.2,344.35 283.62,341.98 287.05,341.98 290.47,341.98 293.9,354.06 297.32,349.62 300.75,344.35 304.18,269.7 307.6,341.98 311.02,341.98 314.45,341.98 317.88,284.15" fill="none" stroke="#8b1a1a" stroke-width="0.9" stroke-linejoin="round" stroke-dasharray="3 1 1 1" stroke-opacity="0.9"/>
<polyline points="47.3,302.74 50.72,277.65 54.15,339.91 57.57,319.88 61,331.5 64.42,343.11 67.85,334.59 71.27,326.07 74.7,344.66 78.12,343.63 81.55,343.32 84.97,343.01 88.4,342.13 91.82,341.25 95.25,339.91 98.67,338.57 102.1,344.76 105.52,343.01 108.95,345.69 112.38,347.45 115.8,281.68 119.22,273.42 122.65,358.5 126.07,273.42 129.5,338.57 132.93,339.91 136.35,341.98 139.77,349.2 143.2,341.25 146.62,342.18 150.05,308.11 153.47,274.04 156.9,269.29 160.32,347.86 163.75,350.24 167.18,353.33 170.6,337.74 174.02,340.84 177.45,343.94 180.88,346.62 184.3,346.16 187.72,345.69 191.15,311 194.57,285.19 198,271.87 201.43,290.35 204.85,334.13 208.27,338.57 211.7,339.91 215.12,338.88 218.55,334.75 221.97,330.62 225.4,325.35 228.82,338.57 232.25,268.77 235.68,305.42 239.1,313.79 242.52,319.26 245.95,333.3 249.38,337.85 252.8,345.69 256.22,284.77 259.65,282.09 263.07,274.97 266.5,269.18 269.93,335.37 273.35,338.22 276.77,338.88 280.2,343.94 283.62,347.14 287.05,350.24 290.47,349.2 293.9,353.64 297.32,349.2 300.75,343.94 304.18,269.29 307.6,285.19 311.02,295.51 314.45,307.28 317.88,305.42" fill="none" stroke="#c83232" stroke-width="1.1" stroke-linejoin="round" stroke-opacity="1"/>
</g>
<rect x="32.4" y="220.1" width="299.1" height="148.3" fill="none" stroke="#555555" stroke-width="0.9"/>
<line x1="47.3" y1="368.4" x2="47.3" y2="370.8" stroke="#555555" stroke-width="0.9"/>
<text x="47.3" y="377.9" font-size="6.7" fill="#262626" text-anchor="middle" textLength="3.8" lengthAdjust="spacingAndGlyphs">0</text>
<line x1="81.55" y1="368.4" x2="81.55" y2="370.8" stroke="#555555" stroke-width="0.9"/>
<text x="81.55" y="377.9" font-size="6.7" fill="#262626" text-anchor="middle" textLength="7.6" lengthAdjust="spacingAndGlyphs">10</text>
<line x1="115.8" y1="368.4" x2="115.8" y2="370.8" stroke="#555555" stroke-width="0.9"/>
<text x="115.8" y="377.9" font-size="6.7" fill="#262626" text-anchor="middle" textLength="7.6" lengthAdjust="spacingAndGlyphs">20</text>
<line x1="150.05" y1="368.4" x2="150.05" y2="370.8" stroke="#555555" stroke-width="0.9"/>
<text x="150.05" y="377.9" font-size="6.7" fill="#262626" text-anchor="middle" textLength="7.6" lengthAdjust="spacingAndGlyphs">30</text>
<line x1="184.3" y1="368.4" x2="184.3" y2="370.8" stroke="#555555" stroke-width="0.9"/>
<text x="184.3" y="377.9" font-size="6.7" fill="#262626" text-anchor="middle" textLength="7.6" lengthAdjust="spacingAndGlyphs">40</text>
<line x1="218.55" y1="368.4" x2="218.55" y2="370.8" stroke="#555555" stroke-width="0.9"/>
<text x="218.55" y="377.9" font-size="6.7" fill="#262626" text-anchor="middle" textLength="7.6" lengthAdjust="spacingAndGlyphs">50</text>
<line x1="252.8" y1="368.4" x2="252.8" y2="370.8" stroke="#555555" stroke-width="0.9"/>
<text x="252.8" y="377.9" font-size="6.7" fill="#262626" text-anchor="middle" textLength="7.6" lengthAdjust="spacingAndGlyphs">60</text>
<line x1="287.05" y1="368.4" x2="287.05" y2="370.8" stroke="#555555" stroke-width="0.9"/>
<text x="287.05" y="377.9" font-size="6.7" fill="#262626" text-anchor="middle" textLength="7.6" lengthAdjust="spacingAndGlyphs">70</text>
<line x1="321.3" y1="368.4" x2="321.3" y2="370.8" stroke="#555555" stroke-width="0.9"/>
<text x="321.3" y="377.9" font-size="6.7" fill="#262626" text-anchor="middle" textLength="7.6" lengthAdjust="spacingAndGlyphs">80</text>
<line x1="30" y1="352.3" x2="32.4" y2="352.3" stroke="#555555" stroke-width="0.9"/>
<text x="28.2" y="354.7" font-size="6.7" fill="#262626" text-anchor="end" textLength="7.8" lengthAdjust="spacingAndGlyphs">60</text>
<line x1="30" y1="331.65" x2="32.4" y2="331.65" stroke="#555555" stroke-width="0.9"/>
<text x="28.2" y="334.05" font-size="6.7" fill="#262626" text-anchor="end" textLength="7.8" lengthAdjust="spacingAndGlyphs">80</text>
<line x1="30" y1="311" x2="32.4" y2="311" stroke="#555555" stroke-width="0.9"/>
<text x="28.2" y="313.4" font-size="6.7" fill="#262626" text-anchor="end" textLength="11.7" lengthAdjust="spacingAndGlyphs">100</text>
<line x1="30" y1="290.35" x2="32.4" y2="290.35" stroke="#555555" stroke-width="0.9"/>
<text x="28.2" y="292.75" font-size="6.7" fill="#262626" text-anchor="end" textLength="11.7" lengthAdjust="spacingAndGlyphs">120</text>
<line x1="30" y1="269.7" x2="32.4" y2="269.7" stroke="#555555" stroke-width="0.9"/>
<text x="28.2" y="272.1" font-size="6.7" fill="#262626" text-anchor="end" textLength="11.7" lengthAdjust="spacingAndGlyphs">140</text>
<line x1="30" y1="249.05" x2="32.4" y2="249.05" stroke="#555555" stroke-width="0.9"/>
<text x="28.2" y="251.45" font-size="6.7" fill="#262626" text-anchor="end" textLength="11.7" lengthAdjust="spacingAndGlyphs">160</text>
<line x1="30" y1="228.4" x2="32.4" y2="228.4" stroke="#555555" stroke-width="0.9"/>
<text x="28.2" y="230.8" font-size="6.7" fill="#262626" text-anchor="end" textLength="11.7" lengthAdjust="spacingAndGlyphs">180</text>
<text x="181.95" y="387.6" font-size="8.2" fill="#262626" text-anchor="middle" textLength="54.3" lengthAdjust="spacingAndGlyphs">Time Steps [h]</text>
<text x="0" y="0" font-size="8.2" fill="#262626" text-anchor="middle" textLength="35.4" lengthAdjust="spacingAndGlyphs" transform="translate(13.4 291.5) rotate(-90)">HR [bpm]</text>
<rect x="110.2" y="222.2" width="220.6" height="33.7" fill="#ffffff" fill-opacity="0.8" stroke="#d0d0d0" stroke-width="0.6" rx="1"/>
<line x1="111.9" y1="227.4" x2="123.5" y2="227.4" stroke="#2222cc" stroke-width="1.2" stroke-opacity="1"/>
<text x="127.2" y="229.4" font-size="5.6" fill="#262626" textLength="48.8" lengthAdjust="spacingAndGlyphs">Original Sequence</text>
<line x1="111.9" y1="235.53" x2="123.5" y2="235.53" stroke="#c83232" stroke-width="1.1" stroke-opacity="1"/>
<text x="127.2" y="237.53" font-size="5.6" fill="#262626" textLength="109" lengthAdjust="spacingAndGlyphs">GAN (ALL TRAINING DATA) (MSE: 677.37)</text>
<line x1="111.9" y1="243.66" x2="123.5" y2="243.66" stroke="#40eaea" stroke-width="1.1" stroke-opacity="1"/>
<text x="127.2" y="245.66" font-size="5.6" fill="#262626" textLength="113.5" lengthAdjust="spacingAndGlyphs">GAN (NEG. TRAINING DATA) (MSE: 641.99)</text>
<line x1="111.9" y1="251.79" x2="123.5" y2="251.79" stroke="#6a6a6a" stroke-width="0.75" stroke-dasharray="2.2 1.2" stroke-opacity="0.85"/>
<text x="127.2" y="253.79" font-size="5.6" fill="#262626" textLength="55.5" lengthAdjust="spacingAndGlyphs">MEAN (MSE: 925.04)</text>
<line x1="251" y1="227.4" x2="262.6" y2="227.4" stroke="#8a3a8a" stroke-width="0.75" stroke-dasharray="1 1" stroke-opacity="0.85"/>
<text x="265.7" y="229.4" font-size="5.6" fill="#262626" textLength="56.5" lengthAdjust="spacingAndGlyphs">LOCF (MSE: 771.76)</text>
<line x1="251" y1="235.53" x2="262.6" y2="235.53" stroke="#8b1a1a" stroke-width="0.9" stroke-dasharray="3 1 1 1" stroke-opacity="0.9"/>
<text x="265.7" y="237.53" font-size="5.6" fill="#262626" textLength="60.4" lengthAdjust="spacingAndGlyphs">BGMM (MSE: 1206.85)</text>
<line x1="251" y1="243.66" x2="262.6" y2="243.66" stroke="#e0cc70" stroke-width="0.7" stroke-dasharray="1 1" stroke-opacity="0.8"/>
<text x="265.7" y="245.66" font-size="5.6" fill="#262626" textLength="53.2" lengthAdjust="spacingAndGlyphs">GPR (MSE: 789.63)</text>
<clipPath id="cd"><rect x="372.5" y="217.3" width="305.2" height="151.3"/></clipPath>
<g clip-path="url(#cd)">
<rect x="398.12" y="217.3" width="3.49" height="151.3" fill="#808080" fill-opacity="0.18" stroke="#808080" stroke-opacity="0.22" stroke-width="0.6"/>
<rect x="401.62" y="217.3" width="3.49" height="151.3" fill="#808080" fill-opacity="0.18" stroke="#808080" stroke-opacity="0.22" stroke-width="0.6"/>
<rect x="405.11" y="217.3" width="3.49" height="151.3" fill="#808080" fill-opacity="0.18" stroke="#808080" stroke-opacity="0.22" stroke-width="0.6"/>
<rect x="415.59" y="217.3" width="3.49" height="151.3" fill="#808080" fill-opacity="0.18" stroke="#808080" stroke-opacity="0.22" stroke-width="0.6"/>
<rect x="443.53" y="217.3" width="3.49" height="151.3" fill="#808080" fill-opacity="0.18" stroke="#808080" stroke-opacity="0.22" stroke-width="0.6"/>
<rect x="457.5" y="217.3" width="3.49" height="151.3" fill="#808080" fill-opacity="0.18" stroke="#808080" stroke-opacity="0.22" stroke-width="0.6"/>
<rect x="464.48" y="217.3" width="3.49" height="151.3" fill="#808080" fill-opacity="0.18" stroke="#808080" stroke-opacity="0.22" stroke-width="0.6"/>
<rect x="474.96" y="217.3" width="3.49" height="151.3" fill="#808080" fill-opacity="0.18" stroke="#808080" stroke-opacity="0.22" stroke-width="0.6"/>
<rect x="478.45" y="217.3" width="3.49" height="151.3" fill="#808080" fill-opacity="0.18" stroke="#808080" stroke-opacity="0.22" stroke-width="0.6"/>
<rect x="485.44" y="217.3" width="3.49" height="151.3" fill="#808080" fill-opacity="0.18" stroke="#808080" stroke-opacity="0.22" stroke-width="0.6"/>
<rect x="495.91" y="217.3" width="3.49" height="151.3" fill="#808080" fill-opacity="0.18" stroke="#808080" stroke-opacity="0.22" stroke-width="0.6"/>
<rect x="502.9" y="217.3" width="3.49" height="151.3" fill="#808080" fill-opacity="0.18" stroke="#808080" stroke-opacity="0.22" stroke-width="0.6"/>
<rect x="509.88" y="217.3" width="3.49" height="151.3" fill="#808080" fill-opacity="0.18" stroke="#808080" stroke-opacity="0.22" stroke-width="0.6"/>
<rect x="516.87" y="217.3" width="3.49" height="151.3" fill="#808080" fill-opacity="0.18" stroke="#808080" stroke-opacity="0.22" stroke-width="0.6"/>
<rect x="520.36" y="217.3" width="3.49" height="151.3" fill="#808080" fill-opacity="0.18" stroke="#808080" stroke-opacity="0.22" stroke-width="0.6"/>
<rect x="527.35" y="217.3" width="3.49" height="151.3" fill="#808080" fill-opacity="0.18" stroke="#808080" stroke-opacity="0.22" stroke-width="0.6"/>
<rect x="530.84" y="217.3" width="3.49" height="151.3" fill="#808080" fill-opacity="0.18" stroke="#808080" stroke-opacity="0.22" stroke-width="0.6"/>
<rect x="537.82" y="217.3" width="3.49" height="151.3" fill="#808080" fill-opacity="0.18" stroke="#808080" stroke-opacity="0.22" stroke-width="0.6"/>
<rect x="558.78" y="217.3" width="3.49" height="151.3" fill="#808080" fill-opacity="0.18" stroke="#808080" stroke-opacity="0.22" stroke-width="0.6"/>
<rect x="579.73" y="217.3" width="3.49" height="151.3" fill="#808080" fill-opacity="0.18" stroke="#808080" stroke-opacity="0.22" stroke-width="0.6"/>
<rect x="586.72" y="217.3" width="3.49" height="151.3" fill="#808080" fill-opacity="0.18" stroke="#808080" stroke-opacity="0.22" stroke-width="0.6"/>
<rect x="590.21" y="217.3" width="3.49" height="151.3" fill="#808080" fill-opacity="0.18" stroke="#808080" stroke-opacity="0.22" stroke-width="0.6"/>
<rect x="597.2" y="217.3" width="3.49" height="151.3" fill="#808080" fill-opacity="0.18" stroke="#808080" stroke-opacity="0.22" stroke-width="0.6"/>
<rect x="607.67" y="217.3" width="3.49" height="151.3" fill="#808080" fill-opacity="0.18" stroke="#808080" stroke-opacity="0.22" stroke-width="0.6"/>
<rect x="611.17" y="217.3" width="3.49" height="151.3" fill="#808080" fill-opacity="0.18" stroke="#808080" stroke-opacity="0.22" stroke-width="0.6"/>
<rect x="621.64" y="217.3" width="3.49" height="151.3" fill="#808080" fill-opacity="0.18" stroke="#808080" stroke-opacity="0.22" stroke-width="0.6"/>
<rect x="632.12" y="217.3" width="3.49" height="151.3" fill="#808080" fill-opacity="0.18" stroke="#808080" stroke-opacity="0.22" stroke-width="0.6"/>
<rect x="635.61" y="217.3" width="3.49" height="151.3" fill="#808080" fill-opacity="0.18" stroke="#808080" stroke-opacity="0.22" stroke-width="0.6"/>
<rect x="639.11" y="217.3" width="3.49" height="151.3" fill="#808080" fill-opacity="0.18" stroke="#808080" stroke-opacity="0.22" stroke-width="0.6"/>
<rect x="646.09" y="217.3" width="3.49" height="151.3" fill="#808080" fill-opacity="0.18" stroke="#808080" stroke-opacity="0.22" stroke-width="0.6"/>
<rect x="656.57" y="217.3" width="3.49" height="151.3" fill="#808080" fill-opacity="0.18" stroke="#808080" stroke-opacity="0.22" stroke-width="0.6"/>
<rect x="660.06" y="217.3" width="3.49" height="151.3" fill="#808080" fill-opacity="0.18" stroke="#808080" stroke-opacity="0.22" stroke-width="0.6"/>
<line x1="385.9" y1="217.3" x2="385.9" y2="368.6" stroke="#bdbdbd" stroke-width="0.75"/>
<line x1="420.82" y1="217.3" x2="420.82" y2="368.6" stroke="#bdbdbd" stroke-width="0.75"/>
<line x1="455.75" y1="217.3" x2="455.75" y2="368.6" stroke="#bdbdbd" stroke-width="0.75"/>
<line x1="490.67" y1="217.3" x2="490.67" y2="368.6" stroke="#bdbdbd" stroke-width="0.75"/>
<line x1="525.6" y1="217.3" x2="525.6" y2="368.6" stroke="#bdbdbd" stroke-width="0.75"/>
<line x1="560.52" y1="217.3" x2="560.52" y2="368.6" stroke="#bdbdbd" stroke-width="0.75"/>
<line x1="595.45" y1="217.3" x2="595.45" y2="368.6" stroke="#bdbdbd" stroke-width="0.75"/>
<line x1="630.38" y1="217.3" x2="630.38" y2="368.6" stroke="#bdbdbd" stroke-width="0.75"/>
<line x1="665.3" y1="217.3" x2="665.3" y2="368.6" stroke="#bdbdbd" stroke-width="0.75"/>
<line x1="372.5" y1="364.73" x2="677.7" y2="364.73" stroke="#bdbdbd" stroke-width="0.75"/>
<line x1="372.5" y1="344.94" x2="677.7" y2="344.94" stroke="#bdbdbd" stroke-width="0.75"/>
<line x1="372.5" y1="325.15" x2="677.7" y2="325.15" stroke="#bdbdbd" stroke-width="0.75"/>
<line x1="372.5" y1="305.36" x2="677.7" y2="305.36" stroke="#bdbdbd" stroke-width="0.75"/>
<line x1="372.5" y1="285.57" x2="677.7" y2="285.57" stroke="#bdbdbd" stroke-width="0.75"/>
<line x1="372.5" y1="265.78" x2="677.7" y2="265.78" stroke="#bdbdbd" stroke-width="0.75"/>
<line x1="372.5" y1="245.99" x2="677.7" y2="245.99" stroke="#bdbdbd" stroke-width="0.75"/>
<line x1="372.5" y1="226.2" x2="677.7" y2="226.2" stroke="#bdbdbd" stroke-width="0.75"/>
<polyline points="385.9,336.23 389.39,277.65 392.88,293.49 396.38,343.36 399.87,339.79 403.36,335.44 406.85,339 410.35,332.87 413.84,338.01 417.33,338.01 420.82,340.78 424.32,340.39 427.81,343.36 431.3,346.13 434.79,342.57 438.29,338.01 441.78,343.36 445.27,338.01 448.76,334.45 452.26,301.4 455.75,274.88 459.24,276.66 462.74,282.01 466.23,283.59 469.72,321.19 473.21,347.91 476.7,338.01 480.2,331.48 483.69,331.09 487.18,328.32 490.67,334.45 494.17,341.18 497.66,337.22 501.15,334.45 504.64,339.79 508.14,345.14 511.63,335.04 515.12,321.19 518.62,324.75 522.11,340.78 525.6,342.57 529.09,340.98 532.59,338.01 536.08,344.35 539.57,315.25 543.06,285.57 546.55,273.7 550.05,287.15 553.54,290.72 557.03,301.4 560.52,323.17 564.02,335.44 567.51,331.88 571,332.87 574.5,331.88 577.99,346.13 581.48,345.14 584.97,341.58 588.46,334.45 591.96,346.92 595.45,349.69 598.94,335.04 602.43,313.28 605.93,335.44 609.42,346.92 612.91,346.92 616.4,340.78 619.9,343.36 623.39,331.09 626.88,330.1 630.38,281.02 633.87,321.19 637.36,303.58 640.85,332.87 644.35,334.45 647.84,339 651.33,341.58 654.82,335.44 658.32,342.57 661.81,320.4" fill="none" stroke="#2222cc" stroke-width="1.2" stroke-linejoin="round" stroke-opacity="1"/>
<polyline points="385.9,340.78 389.39,275.68 392.88,282.01 396.38,339 399.87,333.66 403.36,328.32 406.85,331.09 410.35,332.87 413.84,336.23 417.33,335.04 420.82,338.01 424.32,335.44 427.81,339 431.3,340.78 434.79,339.79 438.29,337.22 441.78,342.57 445.27,334.45 448.76,330.89 452.26,297.84 455.75,269.54 459.24,273.1 462.74,278.45 466.23,280.03 469.72,317.63 473.21,344.35 476.7,334.45 480.2,327.92 483.69,327.52 487.18,324.75 490.67,330.89 494.17,337.62 497.66,333.66 501.15,330.89 504.64,336.23 508.14,339 511.63,331.48 515.12,324.75 518.62,321.19 522.11,337.22 525.6,339 529.09,337.42 532.59,334.45 536.08,340.78 539.57,311.69 543.06,282.01 546.55,265.98 550.05,283.59 553.54,287.15 557.03,297.84 560.52,319.61 564.02,325.74 567.51,331.09 571,332.87 574.5,330.1 577.99,342.57 581.48,341.58 584.97,338.01 588.46,330.89 591.96,343.36 595.45,346.13 598.94,331.48 602.43,312.29 605.93,333.66 609.42,343.36 612.91,343.36 616.4,337.22 619.9,339.79 623.39,327.52 626.88,326.54 630.38,270.33 633.87,297.44 637.36,313.28 640.85,331.09 644.35,330.89 647.84,335.44 651.33,338.01 654.82,331.88 658.32,339 661.81,312.29" fill="none" stroke="#40eaea" stroke-width="1.1" stroke-linejoin="round" stroke-opacity="1"/>
<polyline points="385.9,336.23 389.39,277.65 392.88,293.49 396.38,343.36 399.87,327.52 403.36,327.52 406.85,327.52 410.35,332.87 413.84,338.01 417.33,327.52 420.82,340.78 424.32,340.39 427.81,343.36 431.3,346.13 434.79,342.57 438.29,338.01 441.78,343.36 445.27,327.52 448.76,334.45 452.26,301.4 455.75,274.88 459.24,327.52 462.74,282.01 466.23,327.52 469.72,321.19 473.21,347.91 476.7,327.52 480.2,327.52 483.69,331.09 487.18,327.52 490.67,334.45 494.17,341.18 497.66,327.52 501.15,334.45 504.64,327.52 508.14,345.14 511.63,327.52 515.12,321.19 518.62,327.52 522.11,327.52 525.6,342.57 529.09,327.52 532.59,327.52 536.08,344.35 539.57,327.52 543.06,285.57 546.55,273.7 550.05,287.15 553.54,290.72 557.03,301.4 560.52,327.52 564.02,335.44 567.51,331.88 571,332.87 574.5,331.88 577.99,346.13 581.48,327.52 584.97,341.58 588.46,327.52 591.96,327.52 595.45,349.69 598.94,327.52 602.43,313.28 605.93,335.44 609.42,327.52 612.91,327.52 616.4,340.78 619.9,343.36 623.39,327.52 626.88,330.1 630.38,281.02 633.87,327.52 637.36,327.52 640.85,327.52 644.35,334.45 647.84,327.52 651.33,341.58 654.82,335.44 658.32,327.52 661.81,327.52" fill="none" stroke="#6a6a6a" stroke-width="0.75" stroke-linejoin="round" stroke-dasharray="2.2 1.2" stroke-opacity="0.85"/>
<polyline points="385.9,336.23 389.39,277.65 392.88,293.49 396.38,343.36 399.87,343.36 403.36,343.36 406.85,343.36 410.35,332.87 413.84,338.01 417.33,338.01 420.82,340.78 424.32,340.39 427.81,343.36 431.3,346.13 434.79,342.57 438.29,338.01 441.78,343.36 445.27,343.36 448.76,334.45 452.26,301.4 455.75,274.88 459.24,274.88 462.74,282.01 466.23,282.01 469.72,321.19 473.21,347.91 476.7,347.91 480.2,347.91 483.69,331.09 487.18,331.09 490.67,334.45 494.17,341.18 497.66,341.18 501.15,334.45 504.64,334.45 508.14,345.14 511.63,345.14 515.12,321.19 518.62,321.19 522.11,321.19 525.6,342.57 529.09,342.57 532.59,342.57 536.08,344.35 539.57,344.35 543.06,285.57 546.55,273.7 550.05,287.15 553.54,290.72 557.03,301.4 560.52,301.4 564.02,335.44 567.51,331.88 571,332.87 574.5,331.88 577.99,346.13 581.48,346.13 584.97,341.58 588.46,341.58 591.96,341.58 595.45,349.69 598.94,349.69 602.43,313.28 605.93,335.44 609.42,335.44 612.91,335.44 616.4,340.78 619.9,343.36 623.39,343.36 626.88,330.1 630.38,281.02 633.87,281.02 637.36,281.02 640.85,281.02 644.35,334.45 647.84,334.45 651.33,341.58 654.82,335.44 658.32,335.44 661.81,335.44" fill="none" stroke="#8a3a8a" stroke-width="0.75" stroke-linejoin="round" stroke-dasharray="1 1" stroke-opacity="0.85"/>
<polyline points="385.9,336.23 389.39,277.65 392.88,293.49 396.38,343.36 399.87,336.77 403.36,334.94 406.85,333.1 410.35,332.87 413.84,338.01 417.33,335.84 420.82,340.78 424.32,340.39 427.81,343.36 431.3,346.13 434.79,342.57 438.29,338.01 441.78,343.36 445.27,335.49 448.76,334.45 452.26,301.4 455.75,274.88 459.24,293.17 462.74,282.01 466.23,309.38 469.72,321.19 473.21,347.91 476.7,337.87 480.2,333.94 483.69,331.09 487.18,331.2 490.67,334.45 494.17,341.18 497.66,334.73 501.15,334.45 504.64,336.11 508.14,345.14 511.63,331.47 515.12,321.19 518.62,328.08 522.11,333.07 525.6,342.57 529.09,338.47 532.59,338.88 536.08,344.35 539.57,318.73 543.06,285.57 546.55,273.7 550.05,287.15 553.54,290.72 557.03,301.4 560.52,321.15 564.02,335.44 567.51,331.88 571,332.87 574.5,331.88 577.99,346.13 581.48,338.95 584.97,341.58 588.46,339.25 591.96,341.15 595.45,349.69 598.94,330.3 602.43,313.28 605.93,335.44 609.42,334.31 612.91,335.56 616.4,340.78 619.9,343.36 623.39,333.97 626.88,330.1 630.38,281.02 633.87,304.32 637.36,313.67 640.85,323.02 644.35,334.45 647.84,334.87 651.33,341.58 654.82,335.44 658.32,333.07 661.81,333.07" fill="none" stroke="#e0cc70" stroke-width="0.7" stroke-linejoin="round" stroke-dasharray="1 1" stroke-opacity="0.8"/>
<polyline points="385.9,336.23 389.39,291.7 392.88,295.27 396.38,343.36 399.87,337.82 403.36,337.82 406.85,337.82 410.35,332.87 413.84,338.01 417.33,337.82 420.82,340.78 424.32,340.39 427.81,343.36 431.3,346.13 434.79,342.57 438.29,338.01 441.78,343.36 445.27,337.82 448.76,334.45 452.26,301.4 455.75,274.88 459.24,337.82 462.74,282.01 466.23,337.82 469.72,321.19 473.21,347.91 476.7,337.82 480.2,337.82 483.69,331.09 487.18,337.82 490.67,334.45 494.17,341.18 497.66,337.82 501.15,334.45 504.64,337.82 508.14,345.14 511.63,337.82 515.12,321.19 518.62,337.82 522.11,337.82 525.6,342.57 529.09,337.82 532.59,337.82 536.08,344.35 539.57,337.82 543.06,285.57 546.55,273.7 550.05,287.15 553.54,290.72 557.03,301.4 560.52,337.82 564.02,335.44 567.51,331.88 571,332.87 574.5,331.88 577.99,346.13 581.48,337.82 584.97,341.58 588.46,337.82 591.96,337.82 595.45,349.69 598.94,337.82 602.43,313.28 605.93,335.44 609.42,337.82 612.91,337.82 616.4,340.78 619.9,343.36 623.39,337.82 626.88,330.1 630.38,281.02 633.87,337.82 637.36,337.82 640.85,337.82 644.35,334.45 647.84,337.82 651.33,341.58 654.82,335.44 658.32,337.82 661.81,337.82" fill="none" stroke="#8b1a1a" stroke-width="0.9" stroke-linejoin="round" stroke-dasharray="3 1 1 1" stroke-opacity="0.9"/>
<polyline points="385.9,340.59 389.39,276.66 392.88,289.53 396.38,342.57 399.87,331.48 403.36,331.88 406.85,332.87 410.35,333.66 413.84,342.57 417.33,344.35 420.82,347.91 424.32,343.36 427.81,349.69 431.3,352.26 434.79,347.91 438.29,339.79 441.78,351.47 445.27,339.79 448.76,337.22 452.26,305.76 455.75,274.88 459.24,278.45 462.74,281.02 466.23,287.94 469.72,325.55 473.21,350.48 476.7,337.22 480.2,337.22 483.69,332.87 487.18,333.66 490.67,338.01 494.17,346.92 497.66,335.44 501.15,334.45 504.64,344.15 508.14,346.92 511.63,333.66 515.12,320.8 518.62,322.97 522.11,335.44 525.6,346.92 529.09,342.57 532.59,346.13 536.08,347.91 539.57,319.61 543.06,289.92 546.55,273.1 550.05,291.51 553.54,295.07 557.03,305.76 560.52,327.52 564.02,337.22 567.51,331.88 571,339.79 574.5,331.09 577.99,350.48 581.48,346.13 584.97,343.36 588.46,338.01 591.96,347.91 595.45,351.47 598.94,339.4 602.43,319.21 605.93,340.78 609.42,337.22 612.91,339.79 616.4,338.01 619.9,346.92 623.39,335.04 626.88,332.87 630.38,279.24 633.87,301.4 637.36,317.23 640.85,333.07 644.35,339 647.84,339.99 651.33,344.35 654.82,334.45 658.32,331.09 661.81,315.85" fill="none" stroke="#c83232" stroke-width="1.1" stroke-linejoin="round" stroke-opacity="1"/>
</g>
<rect x="372.5" y="217.3" width="305.2" height="151.3" fill="none" stroke="#555555" stroke-width="0.9"/>
<line x1="385.9" y1="368.6" x2="385.9" y2="371" stroke="#555555" stroke-width="0.9"/>
<text x="385.9" y="378" font-size="6.7" fill="#262626" text-anchor="middle" textLength="3.8" lengthAdjust="spacingAndGlyphs">0</text>
<line x1="420.82" y1="368.6" x2="420.82" y2="371" stroke="#555555" stroke-width="0.9"/>
<text x="420.82" y="378" font-size="6.7" fill="#262626" text-anchor="middle" textLength="7.6" lengthAdjust="spacingAndGlyphs">10</text>
<line x1="455.75" y1="368.6" x2="455.75" y2="371" stroke="#555555" stroke-width="0.9"/>
<text x="455.75" y="378" font-size="6.7" fill="#262626" text-anchor="middle" textLength="7.6" lengthAdjust="spacingAndGlyphs">20</text>
<line x1="490.67" y1="368.6" x2="490.67" y2="371" stroke="#555555" stroke-width="0.9"/>
<text x="490.67" y="378" font-size="6.7" fill="#262626" text-anchor="middle" textLength="7.6" lengthAdjust="spacingAndGlyphs">30</text>
<line x1="525.6" y1="368.6" x2="525.6" y2="371" stroke="#555555" stroke-width="0.9"/>
<text x="525.6" y="378" font-size="6.7" fill="#262626" text-anchor="middle" textLength="7.6" lengthAdjust="spacingAndGlyphs">40</text>
<line x1="560.52" y1="368.6" x2="560.52" y2="371" stroke="#555555" stroke-width="0.9"/>
<text x="560.52" y="378" font-size="6.7" fill="#262626" text-anchor="middle" textLength="7.6" lengthAdjust="spacingAndGlyphs">50</text>
<line x1="595.45" y1="368.6" x2="595.45" y2="371" stroke="#555555" stroke-width="0.9"/>
<text x="595.45" y="378" font-size="6.7" fill="#262626" text-anchor="middle" textLength="7.6" lengthAdjust="spacingAndGlyphs">60</text>
<line x1="630.38" y1="368.6" x2="630.38" y2="371" stroke="#555555" stroke-width="0.9"/>
<text x="630.38" y="378" font-size="6.7" fill="#262626" text-anchor="middle" textLength="7.6" lengthAdjust="spacingAndGlyphs">70</text>
<line x1="665.3" y1="368.6" x2="665.3" y2="371" stroke="#555555" stroke-width="0.9"/>
<text x="665.3" y="378" font-size="6.7" fill="#262626" text-anchor="middle" textLength="7.6" lengthAdjust="spacingAndGlyphs">80</text>
<line x1="370.1" y1="364.73" x2="372.5" y2="364.73" stroke="#555555" stroke-width="0.9"/>
<text x="367.6" y="367.13" font-size="6.7" fill="#262626" text-anchor="end" textLength="7.8" lengthAdjust="spacingAndGlyphs">40</text>
<line x1="370.1" y1="344.94" x2="372.5" y2="344.94" stroke="#555555" stroke-width="0.9"/>
<text x="367.6" y="347.34" font-size="6.7" fill="#262626" text-anchor="end" textLength="7.8" lengthAdjust="spacingAndGlyphs">50</text>
<line x1="370.1" y1="325.15" x2="372.5" y2="325.15" stroke="#555555" stroke-width="0.9"/>
<text x="367.6" y="327.55" font-size="6.7" fill="#262626" text-anchor="end" textLength="7.8" lengthAdjust="spacingAndGlyphs">60</text>
<line x1="370.1" y1="305.36" x2="372.5" y2="305.36" stroke="#555555" stroke-width="0.9"/>
<text x="367.6" y="307.76" font-size="6.7" fill="#262626" text-anchor="end" textLength="7.8" lengthAdjust="spacingAndGlyphs">70</text>
<line x1="370.1" y1="285.57" x2="372.5" y2="285.57" stroke="#555555" stroke-width="0.9"/>
<text x="367.6" y="287.97" font-size="6.7" fill="#262626" text-anchor="end" textLength="7.8" lengthAdjust="spacingAndGlyphs">80</text>
<line x1="370.1" y1="265.78" x2="372.5" y2="265.78" stroke="#555555" stroke-width="0.9"/>
<text x="367.6" y="268.18" font-size="6.7" fill="#262626" text-anchor="end" textLength="7.8" lengthAdjust="spacingAndGlyphs">90</text>
<line x1="370.1" y1="245.99" x2="372.5" y2="245.99" stroke="#555555" stroke-width="0.9"/>
<text x="367.6" y="248.39" font-size="6.7" fill="#262626" text-anchor="end" textLength="11.7" lengthAdjust="spacingAndGlyphs">100</text>
<line x1="370.1" y1="226.2" x2="372.5" y2="226.2" stroke="#555555" stroke-width="0.9"/>
<text x="367.6" y="228.6" font-size="6.7" fill="#262626" text-anchor="end" textLength="11.7" lengthAdjust="spacingAndGlyphs">110</text>
<text x="525.1" y="387.6" font-size="8.2" fill="#262626" text-anchor="middle" textLength="54.3" lengthAdjust="spacingAndGlyphs">Time Steps [h]</text>
<text x="0" y="0" font-size="8.2" fill="#262626" text-anchor="middle" textLength="35.4" lengthAdjust="spacingAndGlyphs" transform="translate(353.4 291.6) rotate(-90)">HR [bpm]</text>
<rect x="462.5" y="218.5" width="212.7" height="35" fill="#ffffff" fill-opacity="0.8" stroke="#d0d0d0" stroke-width="0.6" rx="1"/>
<line x1="464.1" y1="224.3" x2="475.7" y2="224.3" stroke="#2222cc" stroke-width="1.2" stroke-opacity="1"/>
<text x="480.1" y="226.3" font-size="5.6" fill="#262626" textLength="49.8" lengthAdjust="spacingAndGlyphs">Original Sequence</text>
<line x1="464.1" y1="232.5" x2="475.7" y2="232.5" stroke="#c83232" stroke-width="1.1" stroke-opacity="1"/>
<text x="480.1" y="234.5" font-size="5.6" fill="#262626" textLength="108.2" lengthAdjust="spacingAndGlyphs">GAN (ALL TRAINING DATA) (MSE: 22.61)</text>
<line x1="464.1" y1="240.7" x2="475.7" y2="240.7" stroke="#40eaea" stroke-width="1.1" stroke-opacity="1"/>
<text x="480.1" y="242.7" font-size="5.6" fill="#262626" textLength="112.5" lengthAdjust="spacingAndGlyphs">GAN (NEG. TRAINING DATA) (MSE: 26.26)</text>
<line x1="464.1" y1="248.9" x2="475.7" y2="248.9" stroke="#6a6a6a" stroke-width="0.75" stroke-dasharray="2.2 1.2" stroke-opacity="0.85"/>
<text x="480.1" y="250.9" font-size="5.6" fill="#262626" textLength="53" lengthAdjust="spacingAndGlyphs">MEAN (MSE: 73.96)</text>
<line x1="602.9" y1="224.3" x2="614.5" y2="224.3" stroke="#8a3a8a" stroke-width="0.75" stroke-dasharray="1 1" stroke-opacity="0.85"/>
<text x="618.8" y="226.3" font-size="5.6" fill="#262626" textLength="49" lengthAdjust="spacingAndGlyphs">LOCF (MSE: 59.21)</text>
<line x1="602.9" y1="232.5" x2="614.5" y2="232.5" stroke="#8b1a1a" stroke-width="0.9" stroke-dasharray="3 1 1 1" stroke-opacity="0.9"/>
<text x="618.8" y="234.5" font-size="5.6" fill="#262626" textLength="52.9" lengthAdjust="spacingAndGlyphs">BGMM (MSE: 75.90)</text>
<line x1="602.9" y1="240.7" x2="614.5" y2="240.7" stroke="#e0cc70" stroke-width="0.7" stroke-dasharray="1 1" stroke-opacity="0.8"/>
<text x="618.8" y="242.7" font-size="5.6" fill="#262626" textLength="46.5" lengthAdjust="spacingAndGlyphs">GPR (MSE: 24.15)</text>
<text x="7.6" y="13.7" font-size="13" fill="#111" font-weight="bold">a</text>
<text x="343.4" y="12" font-size="13" fill="#111" font-weight="bold">b</text>
<text x="5" y="230.8" font-size="12" fill="#111" font-weight="bold">c</text>
<text x="343.4" y="230.8" font-size="12.6" fill="#111" font-weight="bold">d</text>
</svg></body></html>
